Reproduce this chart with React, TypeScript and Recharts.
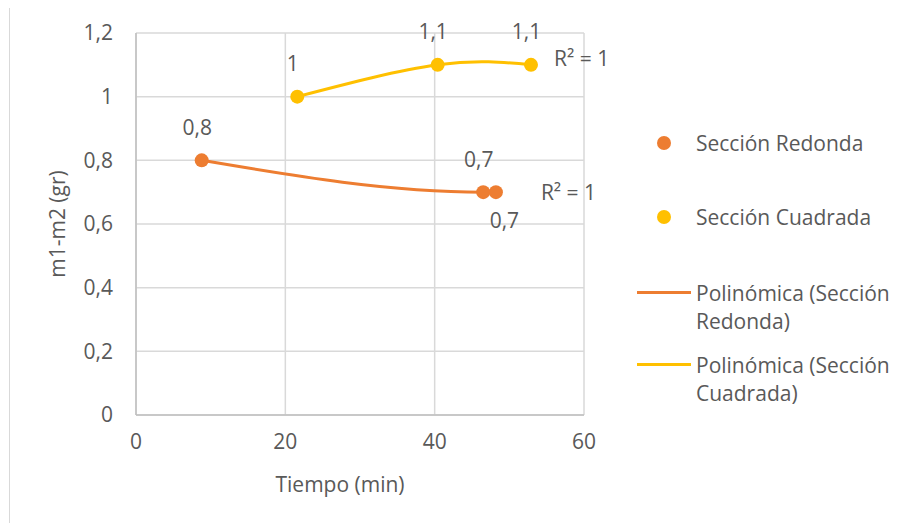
import React from "react";
import {
  ComposedChart,
  Line,
  Scatter,
  CartesianGrid,
  XAxis,
  YAxis,
  Legend,
  Label,
  LabelList,
} from "recharts";

const redondaX = [8.8, 46.5, 48.2];
const redondaY = [0.8, 0.7, 0.7];
const cuadradaX = [21.6, 40.4, 52.9];
const cuadradaY = [1, 1.1, 1.1];

const xTicks = [0, 20, 40, 60];
const yTicks = [0, 0.2, 0.4, 0.6, 0.8, 1, 1.2];

const redonda = redondaX.map((x, i) => ({ x, y: redondaY[i] }));
const cuadrada = cuadradaX.map((x, i) => ({ x, y: cuadradaY[i] }));

const ORANGE = "#ED7D31";
const YELLOW = "#FFC000";
const TEXT = "#595959";
const FONT = 21;

const fmt = (v: number) => String(v).replace(".", ",");

// data labels: above the point, except last "0,7" which Excel put below-right
const makePointLabel = (belowIndex: number) => (props: any) => {
  const { x, y, value, index } = props;
  const below = index === belowIndex;
  return (
    <text
      x={x + (below ? 13 : 0)}
      y={y + (below ? 32 : -29)}
      textAnchor="middle"
      dominantBaseline="central"
      fill={TEXT}
      fontSize={FONT}
    >
      {fmt(value)}
    </text>
  );
};

const makeR2Label = (lastIndex: number, dx: number, dy: number) => (props: any) => {
  const { x, y, index } = props;
  if (index !== lastIndex) return null;
  return (
    <text x={x + dx} y={y + dy} dominantBaseline="central" fill={TEXT} fontSize={FONT}>
      R² = 1
    </text>
  );
};

const dotShape = (color: string) => (props: any) =>
  <circle cx={props.cx} cy={props.cy} r={7} fill={color} />;

function LegendBox() {
  const row: React.CSSProperties = {
    display: "flex",
    alignItems: "flex-start",
    lineHeight: "28px",
    fontSize: FONT,
    color: TEXT,
  };
  const marker: React.CSSProperties = {
    width: 66,
    height: 28,
    position: "relative",
    flexShrink: 0,
  };
  return (
    <div>
      <div style={{ ...row, marginBottom: 46 }}>
        <div style={marker}>
          <span style={{ position: "absolute", left: 27, top: 7, width: 14, height: 14, borderRadius: 7, background: ORANGE }} />
        </div>
        <span>Sección Redonda</span>
      </div>
      <div style={{ ...row, marginBottom: 48 }}>
        <div style={marker}>
          <span style={{ position: "absolute", left: 27, top: 7, width: 14, height: 14, borderRadius: 7, background: YELLOW }} />
        </div>
        <span>Sección Cuadrada</span>
      </div>
      <div style={{ ...row, marginBottom: 16 }}>
        <div style={marker}>
          <span style={{ position: "absolute", left: 7, top: 12, width: 54, height: 3, background: ORANGE }} />
        </div>
        <span>
          Polinómica (Sección
          <br />
          Redonda)
        </span>
      </div>
      <div style={row}>
        <div style={marker}>
          <span style={{ position: "absolute", left: 7, top: 12, width: 54, height: 3, background: YELLOW }} />
        </div>
        <span>
          Polinómica (Sección
          <br />
          Cuadrada)
        </span>
      </div>
    </div>
  );
}

export default function App() {
  return (
    <div
      style={{
        position: "relative",
        width: 906,
        height: 531,
        margin: -8,
        overflow: "hidden",
        background: "#fff",
        fontFamily: "'Open Sans', sans-serif",
      }}
    >
      <div
        style={{
          position: "absolute",
          left: 9,
          top: 4,
          width: 1000,
          height: 1000,
          border: "1px solid #d9d9d9",
        }}
      />
      <ComposedChart
        width={906}
        height={531}
        margin={{ top: 33, right: 322, bottom: 36, left: 56 }}
        style={{ position: "absolute", left: 0, top: 0 }}
      >
        <CartesianGrid stroke="#d9d9d9" strokeWidth={1.5} />
        <XAxis
          type="number"
          dataKey="x"
          domain={[0, 60]}
          ticks={xTicks}
          height={80}
          tickLine={false}
          tickMargin={13}
          axisLine={{ stroke: "#bfbfbf", strokeWidth: 1.5 }}
          tick={{ fontSize: FONT, fill: TEXT }}
        >
          <Label value="Tiempo (min)" position="insideBottom" offset={3} dx={-20} fill={TEXT} fontSize={FONT} />
        </XAxis>
        <YAxis
          type="number"
          dataKey="y"
          domain={[0, 1.2]}
          ticks={yTicks}
          width={80}
          tickLine={false}
          tickMargin={17}
          tickFormatter={fmt}
          axisLine={{ stroke: "#bfbfbf", strokeWidth: 1.5 }}
          tick={{ fontSize: FONT, fill: TEXT }}
        >
          <Label
            value="m1-m2 (gr)"
            angle={-90}
            position="insideLeft"
            offset={2}
            fill={TEXT}
            fontSize={FONT}
            style={{ textAnchor: "middle" }}
          />
        </YAxis>
        <Legend
          layout="vertical"
          align="center"
          verticalAlign="middle"
          wrapperStyle={{ left: 630, top: 129, width: 276, height: "auto" }}
          content={() => <LegendBox />}
        />
        <Line
          data={redonda}
          dataKey="y"
          type="monotoneX"
          stroke={ORANGE}
          strokeWidth={3}
          dot={false}
          activeDot={false}
          isAnimationActive={false}
          legendType="none"
        >
          <LabelList dataKey="y" content={makeR2Label(2, 45, 0)} />
        </Line>
        <Line
          data={cuadrada}
          dataKey="y"
          type="natural"
          stroke={YELLOW}
          strokeWidth={3}
          dot={false}
          activeDot={false}
          isAnimationActive={false}
          legendType="none"
        >
          <LabelList dataKey="y" content={makeR2Label(2, 23, -7)} />
        </Line>
        <Scatter data={redonda} dataKey="y" shape={dotShape(ORANGE)} isAnimationActive={false}>
          <LabelList dataKey="y" content={makePointLabel(2)} />
        </Scatter>
        <Scatter data={cuadrada} dataKey="y" shape={dotShape(YELLOW)} isAnimationActive={false}>
          <LabelList dataKey="y" content={makePointLabel(-1)} />
        </Scatter>
      </ComposedChart>
    </div>
  );
}
